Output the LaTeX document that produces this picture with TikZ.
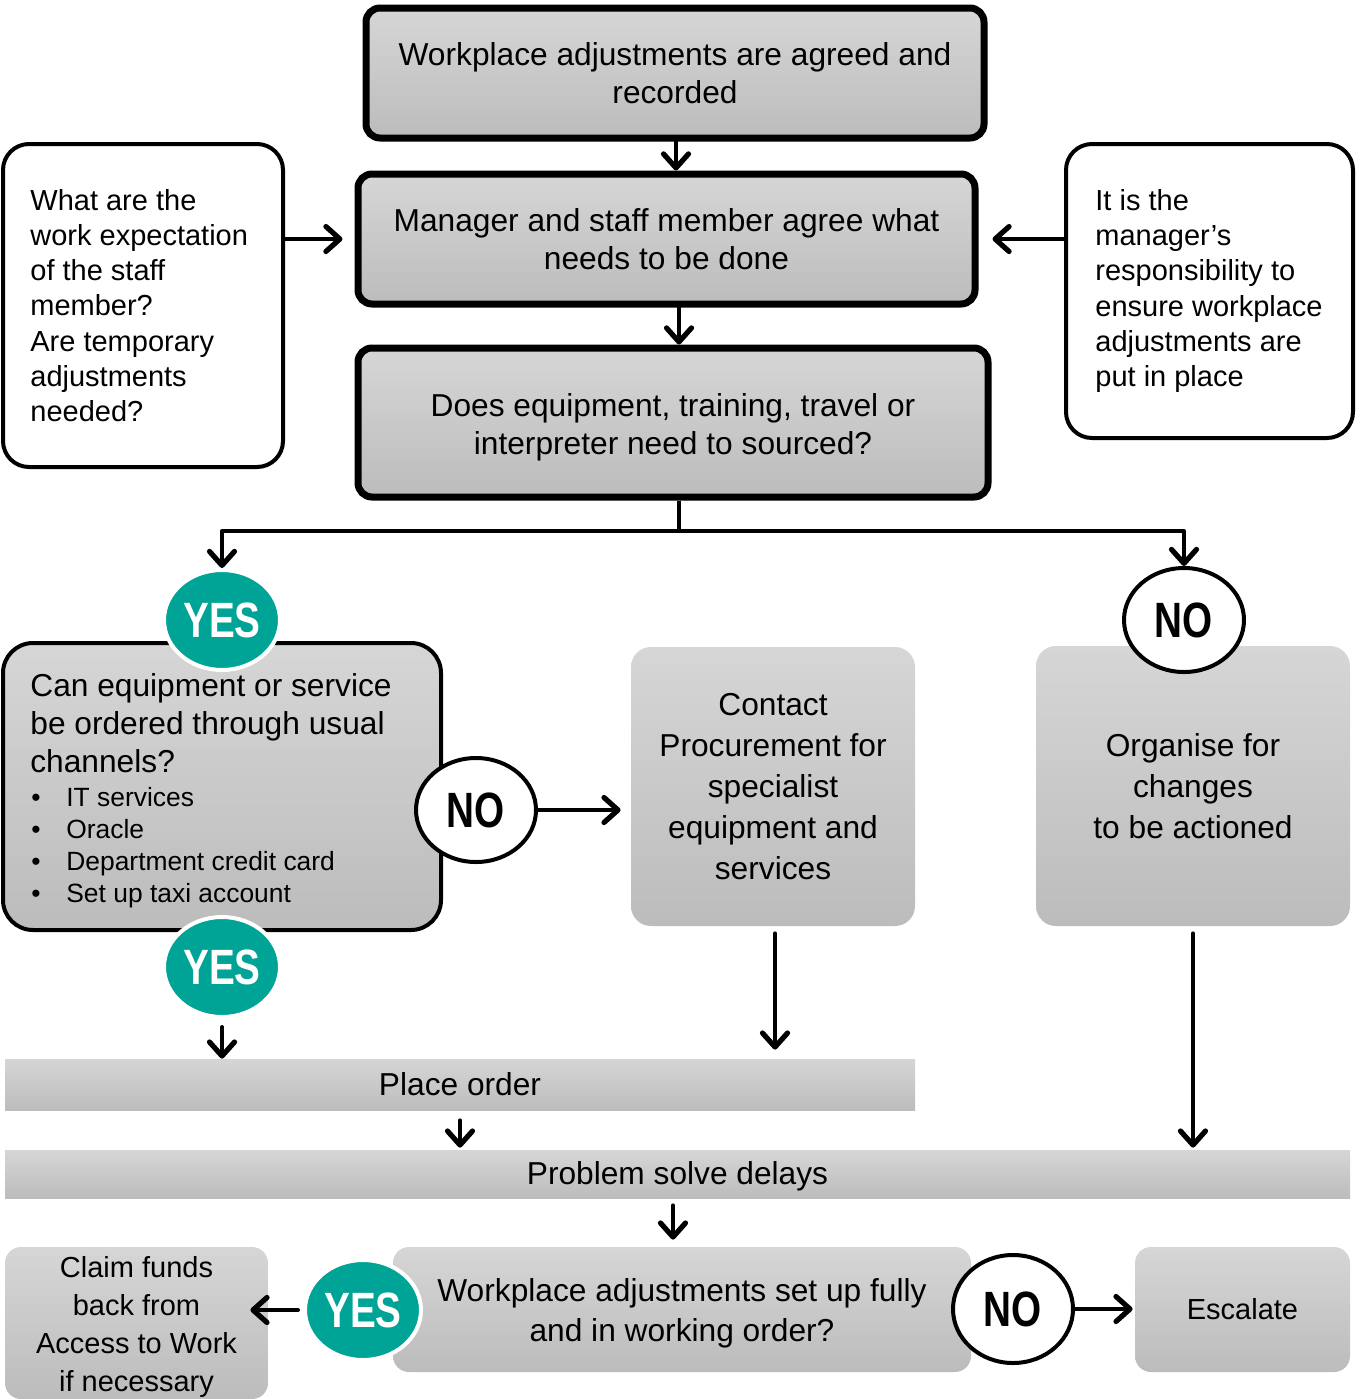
\documentclass[tikz,border=0pt]{standalone}
\usepackage{fontspec}
\setmainfont{Liberation Sans}
\newfontfamily\ynfont[FakeStretch=0.78]{Liberation Sans Bold}
\usetikzlibrary{shapes.geometric,arrows.meta}
\definecolor{gtop}{HTML}{D6D6D6}
\definecolor{gbot}{HTML}{BCBCBC}
\definecolor{tealc}{HTML}{00A496}
\tikzset{
  thickbox/.style={draw=black, line width=3.5pt, rounded corners=7pt, top color=gtop, bottom color=gbot, align=center, inner sep=0pt, font=\fontsize{15.85}{19}\selectfont},
  whitebox/.style={draw=black, line width=2pt, rounded corners=13pt, fill=white, inner sep=0pt},
  boxtext/.style={inner sep=0pt, align=left, font=\fontsize{14.5}{17.6}\selectfont},
  graybox/.style={rounded corners=10pt, top color=gtop, bottom color=gbot, align=center, inner sep=0pt, font=\fontsize{15.85}{20.5}\selectfont},
  barbox/.style={top color=gtop, bottom color=gbot, inner sep=0pt, font=\fontsize{15.85}{19}\selectfont},
  yesc/.style={ellipse, draw=white, line width=2pt, fill=tealc, text=white, inner sep=0pt, minimum width=58pt, minimum height=50pt, font=\ynfont\fontsize{24.8}{24}\selectfont},
  noc/.style={ellipse, draw=black, line width=2pt, fill=white, inner sep=0pt, minimum width=60pt, minimum height=52pt, font=\ynfont\fontsize{24.8}{24}\selectfont},
  arr/.style={line width=2pt, line join=round, line cap=round, -{Straight Barb[length=7pt,width=12.5pt,line width=2.6pt,line cap=round,line join=round]}},
  plainline/.style={line width=2pt}
}
\begin{document}
\begin{tikzpicture}[x=0.5pt,y=-0.5pt]
\useasboundingbox (0,0) rectangle (1362,1399);

% top boxes
\node[thickbox, minimum width=309pt, minimum height=65pt] (b1) at (675,73) {Workplace adjustments are agreed and\\recorded};
\node[thickbox, minimum width=308.5pt, minimum height=65pt] (b2) at (666.5,239) {Manager and staff member agree what\\needs to be done};
\node[thickbox, minimum width=315pt, minimum height=74.5pt] (b3) at (673,422.5) {};
\node[inner sep=0pt, align=center, font=\fontsize{15.85}{19}\selectfont] (b3t) at (673,427.5) {Does equipment, training, travel or\\interpreter need to sourced?};

\node[whitebox, minimum width=140pt, minimum height=161.5pt] (lq) at (143,305.5) {};
\node[boxtext, anchor=west] (lqt) at (30,305.5) {What are the\\work expectation\\of the staff\\member?\\Are temporary\\adjustments\\needed?};
\node[whitebox, minimum width=143.5pt, minimum height=147pt] (rq) at (1209.5,291) {};
\node[boxtext, anchor=west] (rqt) at (1095,291) {It is the\\manager’s\\responsibility to\\ensure workplace\\adjustments are\\put in place};

% middle boxes
\node[draw=black, line width=2pt, rounded corners=15pt, top color=gtop, bottom color=gbot, minimum width=219pt, minimum height=143.5pt, inner sep=0pt] (cq) at (222,786.5) {};
\node[anchor=north west, inner sep=0pt, align=left, font=\fontsize{15.85}{19}\selectfont] (cqt) at (30,673) {Can equipment or service\\be ordered through usual\\channels?};
\node[anchor=north west, inner sep=0pt, align=left, font=\fontsize{13.2}{16}\selectfont] (cql) at (31,787) {\makebox[17.5pt][l]{•}IT services\\\makebox[17.5pt][l]{•}Oracle\\\makebox[17.5pt][l]{•}Department credit card\\\makebox[17.5pt][l]{•}Set up taxi account};

\node[graybox, minimum width=142pt, minimum height=139.5pt] (cp) at (773,786.5) {Contact\\Procurement for\\specialist\\equipment and\\services};
\node[graybox, minimum width=157pt, minimum height=140pt] (org) at (1193,786) {Organise for\\changes\\to be actioned};

% bars
\node[barbox, minimum width=455pt, minimum height=25.5pt] (po) at (460,1084.5) {Place order};
\node[barbox, minimum width=672.5pt, minimum height=24pt] (ps) at (677.5,1174) {};
\node[inner sep=0pt, font=\fontsize{15.85}{19}\selectfont] (pst) at (677.5,1176) {Problem solve delays};

% bottom boxes
\node[graybox, rounded corners=8pt, minimum width=289pt, minimum height=62.5pt] (wa) at (682,1309.5) {};
\node[inner sep=0pt, align=center, font=\fontsize{15.85}{20}\selectfont] (wat) at (682,1313) {Workplace adjustments set up fully\\and in working order?};
\node[graybox, rounded corners=8pt, minimum width=131.5pt, minimum height=76pt] (cl) at (136.5,1323) {};
\node[inner sep=0pt, align=center, font=\fontsize{14.5}{18.9}\selectfont] (clt) at (136.5,1327) {Claim funds\\back from\\Access to Work\\if necessary};
\node[graybox, rounded corners=8pt, minimum width=107.5pt, minimum height=62.5pt, font=\fontsize{14.5}{18}\selectfont] (esc) at (1242.5,1309.5) {Escalate};

% decision circles
\node[yesc] (yes1) at (222,620) {YES};
\node[yesc] (yes2) at (222,967) {YES};
\node[yesc] (yes3) at (363,1310) {YES};
\node[noc] (no1) at (1184,620) {NO};
\node[noc] (no2) at (476,810) {NO};
\node[noc, minimum height=54pt] (no3) at (1013,1309) {NO};

% connectors
\draw[arr] ([xshift=0.5pt]b1.south) -- ([xshift=0.5pt]b1.south |- b2.north);
\draw[arr] ([xshift=6.25pt]b2.south) -- ([xshift=6.25pt]b2.south |- b3.north);
\draw[arr, shorten >=6pt] (lq.east |- b2.west) -- (b2.west);
\draw[arr, shorten >=7pt] (rq.west |- b2.east) -- (b2.east);
\coordinate (brC) at (679,531);
\draw[plainline] ([xshift=3pt]b3.south) -- (brC);
\draw[arr] (brC) -- (brC -| yes1) -- (yes1.north);
\draw[arr] (brC) -- (brC -| no1) -- (no1.north);
\draw[arr, shorten >=5pt] (no2.east) -- (no2.east -| cp.west);
\draw[arr, shorten <=4pt] (yes2.south) -- (yes2.south |- po.north);
\draw[arr, shorten <=3.5pt, shorten >=4.5pt] ([xshift=1pt]cp.south) -- ([xshift=1pt]cp.south |- po.north);
\draw[arr, shorten <=3.5pt, shorten >=1pt] (org.south) -- (org.south |- ps.north);
\draw[arr, shorten <=5pt, shorten >=1pt] (po.south) -- (po.south |- ps.north);
\draw[arr, shorten <=3.5pt, shorten >=3.5pt] ([xshift=-2.25pt]ps.south) -- ([xshift=-2.25pt]ps.south |- wa.north);
\draw[arr, shorten <=2.5pt] (yes3.west) -- ([xshift=-9pt]yes3.west -| cl.east);
\draw[arr, shorten >=1pt] (no3.east) -- (no3.east -| esc.west);
\end{tikzpicture}
\end{document}
